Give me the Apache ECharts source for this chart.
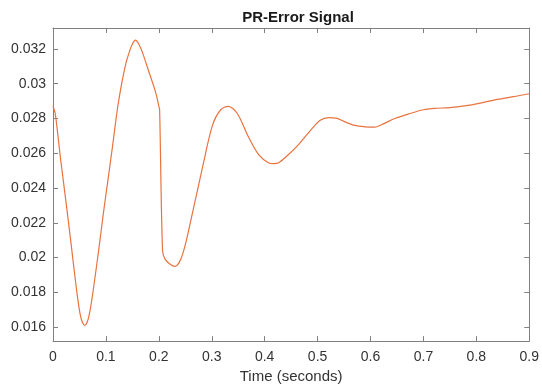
<!DOCTYPE html>
<html>
<head>
<meta charset="utf-8">
<script src="https://cdn.jsdelivr.net/npm/echarts@6/dist/echarts.min.js"></script>
<style>
html,body{margin:0;padding:0;background:#fff;}
#chart{width:542px;height:389px;}
</style>
</head>
<body>
<div id="chart"></div>
<script>
const timeValues = [0, 0.004, 0.0075, 0.0138, 0.02, 0.0294, 0.0388, 0.046, 0.051, 0.0555, 0.06, 0.0645, 0.069, 0.074, 0.08, 0.0875, 0.095, 0.104, 0.1125, 0.122, 0.131, 0.138, 0.144, 0.150, 0.156, 0.162, 0.169, 0.181, 0.194, 0.2, 0.2015, 0.207, 0.212, 0.222, 0.231, 0.245, 0.2638, 0.2826, 0.3013, 0.317, 0.3313, 0.348, 0.370, 0.389, 0.4077, 0.417, 0.4265, 0.444, 0.464, 0.489, 0.505, 0.521, 0.537, 0.552, 0.570, 0.590, 0.608, 0.625, 0.646, 0.671, 0.700, 0.721, 0.750, 0.778, 0.810, 0.840, 0.870, 0.9];
const errorValues = [0.0287, 0.0283, 0.0275, 0.0258, 0.0243, 0.0220, 0.0196, 0.0178, 0.0168, 0.01628, 0.0161, 0.01628, 0.0168, 0.0177, 0.0190, 0.0207, 0.0225, 0.0245, 0.0264, 0.0286, 0.0302, 0.0312, 0.0318, 0.03228, 0.0325, 0.03228, 0.0318, 0.0307, 0.0295, 0.0287, 0.0285, 0.0204, 0.0199, 0.0196, 0.0195, 0.0202, 0.0226, 0.0252, 0.0276, 0.0285, 0.0287, 0.0283, 0.0269, 0.0259, 0.02544, 0.0254, 0.02545, 0.0259, 0.0265, 0.0274, 0.0279, 0.02805, 0.0280, 0.0278, 0.0276, 0.02752, 0.0275, 0.0277, 0.0280, 0.02825, 0.0285, 0.02858, 0.02862, 0.02872, 0.0289, 0.0291, 0.02925, 0.02942];
const yTickValues = [0.016, 0.018, 0.02, 0.022, 0.024, 0.026, 0.028, 0.03, 0.032];
const xTickLabels = ['0', '0.1', '0.2', '0.3', '0.4', '0.5', '0.6', '0.7', '0.8', '0.9'];
const titleText = 'PR-Error Signal';
const xAxisName = 'Time (seconds)';

const seriesData = timeValues.map((t, i) => [t, errorValues[i]]);
const font = '"Liberation Sans", Arial, Helvetica, sans-serif';
const axisColor = '#808080';
const labelColor = '#333333';

const chart = echarts.init(document.getElementById('chart'), null, {renderer: 'canvas'});
chart.setOption({
  animation: false,
  backgroundColor: '#ffffff',
  title: {
    text: titleText,
    left: 293, top: 5, textAlign: 'center',
    textStyle: {fontFamily: font, fontSize: 15, fontWeight: 'bold', color: '#1a1a1a'}
  },
  grid: {left: 53, right: 10, top: 28, bottom: 40, containLabel: false},
  xAxis: [{
    type: 'value', min: 0, max: 0.9, interval: 0.1,
    name: xAxisName, nameLocation: 'middle', nameGap: 27,
    nameTextStyle: {fontFamily: font, fontSize: 15, color: labelColor},
    axisLine: {show: true, onZero: false, lineStyle: {color: axisColor, width: 1}},
    axisTick: {show: true, inside: true, length: 5, lineStyle: {color: axisColor}},
    axisLabel: {fontFamily: font, fontSize: 14, color: labelColor, margin: 9,
      formatter: (v) => xTickLabels[Math.round(v * 10)] || ''},
    splitLine: {show: false}
  }, {
    type: 'value', min: 0, max: 0.9, interval: 0.1, position: 'top',
    axisLine: {show: true, onZero: false, lineStyle: {color: axisColor, width: 1}},
    axisTick: {show: true, inside: true, length: 5, lineStyle: {color: axisColor}},
    axisLabel: {show: false}, splitLine: {show: false}
  }],
  yAxis: [{
    type: 'value', min: 0.0152, max: 0.0332,
    axisLine: {show: true, onZero: false, lineStyle: {color: axisColor, width: 1}},
    axisTick: {show: true, inside: true, length: 5, lineStyle: {color: axisColor}, customValues: yTickValues},
    axisLabel: {fontFamily: font, fontSize: 14, color: labelColor, margin: 7, customValues: yTickValues,
      formatter: (v) => String(parseFloat(v.toFixed(4)))},
    splitLine: {show: false}
  }, {
    type: 'value', min: 0.0152, max: 0.0332, position: 'right',
    axisLine: {show: true, onZero: false, lineStyle: {color: axisColor, width: 1}},
    axisTick: {show: true, inside: true, length: 5, lineStyle: {color: axisColor}, customValues: yTickValues},
    axisLabel: {show: false}, splitLine: {show: false}
  }],
  series: [{
    type: 'line',
    data: seriesData,
    xAxisIndex: 0, yAxisIndex: 0,
    showSymbol: false,
    smooth: 0.3,
    lineStyle: {color: '#E8733F', width: 1.2},
    silent: true
  }]
});
</script>
</body>
</html>
